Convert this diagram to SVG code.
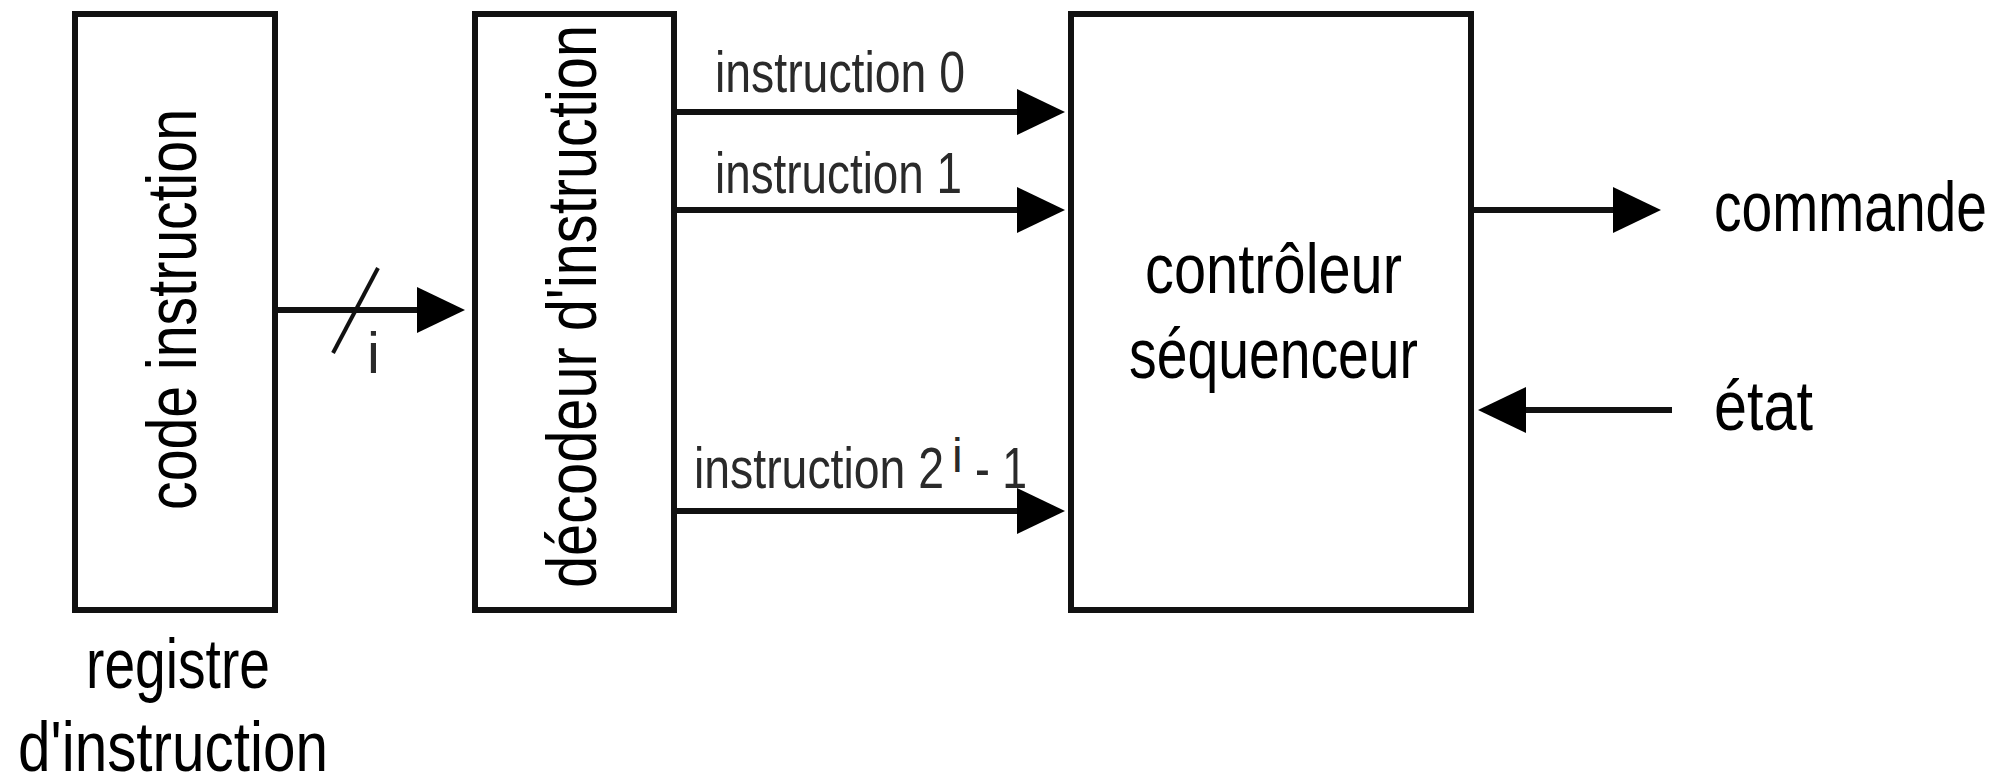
<svg xmlns="http://www.w3.org/2000/svg" width="2010" height="778" viewBox="0 0 2010 778">
  <style>
    .box { fill: #ffffff; stroke: #111111; stroke-width: 6; }
    .wire { fill: none; stroke: #111111; stroke-width: 6; }
    .big { font-family: "Liberation Sans", Arial, sans-serif; font-size: 70px; fill: #000000; }
    .lbl { font-family: "Liberation Sans", Arial, sans-serif; font-size: 58px; fill: #2a2a2a; }
  </style>
  <defs>
    <marker id="head" markerUnits="userSpaceOnUse" viewBox="0 0 48 46" refX="2" refY="23"
            markerWidth="48" markerHeight="46" orient="auto">
      <path d="M0,0 L48,23 L0,46 z" fill="#000000"/>
    </marker>
  </defs>
  <rect width="2010" height="778" fill="#ffffff"/>

  <!-- instruction register -->
  <g id="registre">
    <rect class="box" x="75" y="14" width="200" height="596"/>
    <text class="big" transform="translate(196,510) rotate(-90)" textLength="401" lengthAdjust="spacingAndGlyphs">code instruction</text>
    <text class="big" x="86" y="688" textLength="184" lengthAdjust="spacingAndGlyphs">registre</text>
    <text class="big" x="18" y="771" textLength="310" lengthAdjust="spacingAndGlyphs">d'instruction</text>
  </g>

  <!-- instruction decoder -->
  <g id="decodeur">
    <rect class="box" x="475" y="14" width="199" height="596"/>
    <text class="big" transform="translate(596,588) rotate(-90)" textLength="563" lengthAdjust="spacingAndGlyphs">décodeur d'instruction</text>
  </g>

  <!-- sequencer controller -->
  <g id="controleur">
    <rect class="box" x="1071" y="14" width="400" height="596"/>
    <text class="big" x="1145" y="293" textLength="257" lengthAdjust="spacingAndGlyphs">contrôleur</text>
    <text class="big" x="1129" y="378" textLength="289" lengthAdjust="spacingAndGlyphs">séquenceur</text>
  </g>

  <!-- external signals -->
  <g id="commande">
    <text class="big" x="1714" y="231" textLength="273" lengthAdjust="spacingAndGlyphs">commande</text>
  </g>
  <g id="etat">
    <text class="big" x="1714" y="430" textLength="99" lengthAdjust="spacingAndGlyphs">état</text>
  </g>

  <!-- connectors -->
  <g id="connecteurs">
    <!-- i-bit bus from register to decoder -->
    <line class="wire" x1="275" y1="310" x2="419" y2="310" marker-end="url(#head)"/>
    <line class="wire" x1="333" y1="353" x2="378" y2="268" style="stroke-width:4"/>
    <text class="lbl" x="367" y="373">i</text>

    <!-- decoder outputs -->
    <line class="wire" x1="674" y1="112" x2="1019" y2="112" marker-end="url(#head)"/>
    <text class="lbl" x="715" y="92" textLength="250" lengthAdjust="spacingAndGlyphs">instruction 0</text>

    <line class="wire" x1="674" y1="210" x2="1019" y2="210" marker-end="url(#head)"/>
    <text class="lbl" x="715" y="193" textLength="247" lengthAdjust="spacingAndGlyphs">instruction 1</text>

    <line class="wire" x1="674" y1="511" x2="1019" y2="511" marker-end="url(#head)"/>
    <text class="lbl"><tspan x="694" y="488" textLength="250" lengthAdjust="spacingAndGlyphs">instruction 2</tspan><tspan x="952" y="472" font-size="48">i</tspan><tspan x="975" y="488" textLength="52" lengthAdjust="spacingAndGlyphs">- 1</tspan></text>

    <!-- controller outputs / inputs -->
    <line class="wire" x1="1471" y1="210" x2="1615" y2="210" marker-end="url(#head)"/>
    <line class="wire" x1="1672" y1="410" x2="1524" y2="410" marker-end="url(#head)"/>
  </g>
</svg>
